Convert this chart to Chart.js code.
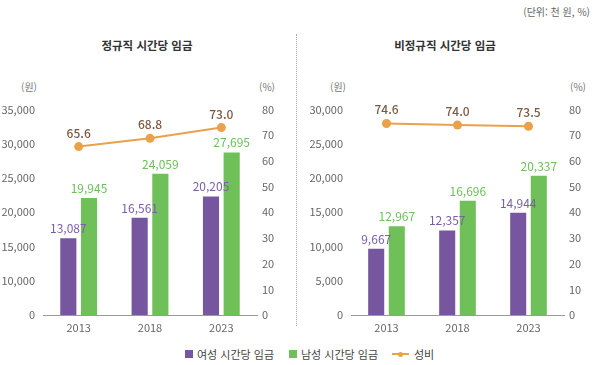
<!DOCTYPE html>
<html lang="ko">
<head>
<meta charset="utf-8">
<script src="https://cdn.jsdelivr.net/npm/chart.js@4.4.1/dist/chart.umd.min.js"></script>
<style>
  body { margin: 0; background: #fff; font-family: "Noto Sans CJK KR", "Noto Sans", sans-serif; }
  #wrap { position: relative; width: 596px; height: 365px; overflow: hidden; }
  .abs { position: absolute; white-space: nowrap; }
  .unit { font-size: 10px; color: #666; }
  .title { font-size: 11.5px; font-weight: bold; color: #333; transform: translateX(-50%); }
  .axisT { font-size: 10px; color: #777; }
  .divider { position: absolute; left: 296px; top: 34px; height: 292px; border-left: 1px dotted #aaa; }
  .leg { font-size: 11px; color: #444; display: flex; align-items: center; }
  .sw { width: 8px; height: 8px; display: inline-block; margin-right: 4px; }
</style>
</head>
<body>
<div id="wrap">
  <div class="abs unit" style="right:6px; top:4px;">(단위: 천 원, %)</div>
  <div class="abs title" style="left:147px; top:37px;">정규직 시간당 임금</div>
  <div class="abs title" style="left:445px; top:37px;">비정규직 시간당 임금</div>
  <div class="divider"></div>
  <div class="abs axisT" style="left:21px; top:79px;">(원)</div>
  <div class="abs axisT" style="left:259px; top:79px;">(%)</div>
  <div class="abs axisT" style="left:330px; top:79px;">(원)</div>
  <div class="abs axisT" style="left:570px; top:79px;">(%)</div>
  <div style="position:absolute; left:0; top:95px; width:290px; height:245px;"><canvas id="c1"></canvas></div>
  <div style="position:absolute; left:296px; top:95px; width:300px; height:245px;"><canvas id="c2"></canvas></div>
  <div class="abs leg" style="left:185px; top:346px;">
    <span class="sw" style="background:#76569e"></span>여성 시간당 임금
    <span class="sw" style="background:#70c05a; margin-left:15px"></span>남성 시간당 임금
    <span style="margin-left:14px; margin-right:5px; position:relative; width:17px; height:8px; display:inline-block;">
      <span style="position:absolute; left:0; top:3px; width:17px; height:2px; background:#eaa14c"></span>
      <span style="position:absolute; left:6px; top:1.5px; width:5px; height:5px; border-radius:50%; background:#eaa14c"></span>
    </span>성비
  </div>
</div>
<script>
const years = ['2013', '2018', '2023'];

// 정규직
const regWomen = [13087, 16561, 20205];
const regMen = [19945, 24059, 27695];
const regRatio = [65.6, 68.8, 73.0];
// the original left axis shows 7 evenly spaced labels (no 5,000)
const regTickLabels = ['0', '10,000', '15,000', '20,000', '25,000', '30,000', '35,000'];

// 비정규직
const nonWomen = [9667, 12357, 14944];
const nonMen = [12967, 16696, 20337];
const nonRatio = [74.6, 74.0, 73.5];
const nonTickLabels = ['0', '5,000', '10,000', '15,000', '20,000', '25,000', '30,000'];

const purple = '#76569e';
const green = '#70c05a';
const orange = '#eaa14c';
const tickColor = '#666';
const font = '"Noto Sans CJK KR", "Noto Sans", sans-serif';

const valueLabels = {
  id: 'valueLabels',
  afterDatasetsDraw(chart) {
    const ctx = chart.ctx;
    ctx.save();
    ctx.textAlign = 'center';
    ctx.textBaseline = 'alphabetic';
    chart.data.datasets.forEach((ds, i) => {
      const meta = chart.getDatasetMeta(i);
      meta.data.forEach((el, j) => {
        const v = ds.data[j];
        if (ds.type === 'line') {
          ctx.font = '500 12px ' + font;
          ctx.fillStyle = '#7a5a40';
          ctx.fillText(v.toFixed(1), el.x, el.y - 9);
        } else {
          ctx.font = '12px ' + font;
          ctx.fillStyle = ds.labelColor;
          ctx.fillText(v.toLocaleString('en-US'), el.x, el.y - 5);
        }
      });
    });
    ctx.restore();
  }
};

function makeChart(id, women, men, ratio, leftMax, tickLabels, leftW, rightW) {
  const n = tickLabels.length - 1;
  return new Chart(document.getElementById(id), {
    data: {
      labels: years,
      datasets: [
        { type: 'line', label: '성비', data: ratio, yAxisID: 'y1', borderColor: orange, backgroundColor: orange,
          borderWidth: 2, pointRadius: 4.5, pointBackgroundColor: orange, pointBorderWidth: 0, order: 0 },
        { type: 'bar', label: '여성 시간당 임금', data: women, yAxisID: 'y', backgroundColor: purple,
          labelColor: '#7b5ea8', categoryPercentage: 0.58, barPercentage: 0.78, order: 1 },
        { type: 'bar', label: '남성 시간당 임금', data: men, yAxisID: 'y', backgroundColor: green,
          labelColor: '#6cbf5b', categoryPercentage: 0.58, barPercentage: 0.78, order: 1 }
      ]
    },
    options: {
      responsive: true,
      maintainAspectRatio: false,
      animation: false,
      layout: { padding: { top: 13, left: 0, right: 0, bottom: 0 } },
      plugins: { legend: { display: false }, tooltip: { enabled: false } },
      scales: {
        x: {
          grid: { display: false, drawTicks: false },
          border: { display: true, color: '#9a9a9a', width: 1 },
          ticks: { color: tickColor, font: { family: font, size: 11 }, padding: 6 },
          afterFit(s) { s.height = 25; }
        },
        y: {
          position: 'left', min: 0, max: leftMax,
          grid: { display: false, drawTicks: false },
          border: { display: false },
          afterBuildTicks(s) {
            s.ticks = tickLabels.map((_, i) => ({ value: leftMax * i / n }));
          },
          ticks: { color: tickColor, font: { family: font, size: 11 }, padding: 8,
            callback: (v, i) => tickLabels[i] },
          afterFit(s) { s.width = leftW; }
        },
        y1: {
          position: 'right', min: 0, max: 80,
          grid: { display: false, drawTicks: false },
          border: { display: false },
          ticks: { stepSize: 10, color: tickColor, font: { family: font, size: 11 }, padding: 5 },
          afterFit(s) { s.width = rightW; }
        }
      }
    },
    plugins: [valueLabels]
  });
}

makeChart('c1', regWomen, regMen, regRatio, 35000, regTickLabels, 43, 33);
makeChart('c2', nonWomen, nonMen, nonRatio, 30000, nonTickLabels, 55, 32);
</script>
</body>
</html>
